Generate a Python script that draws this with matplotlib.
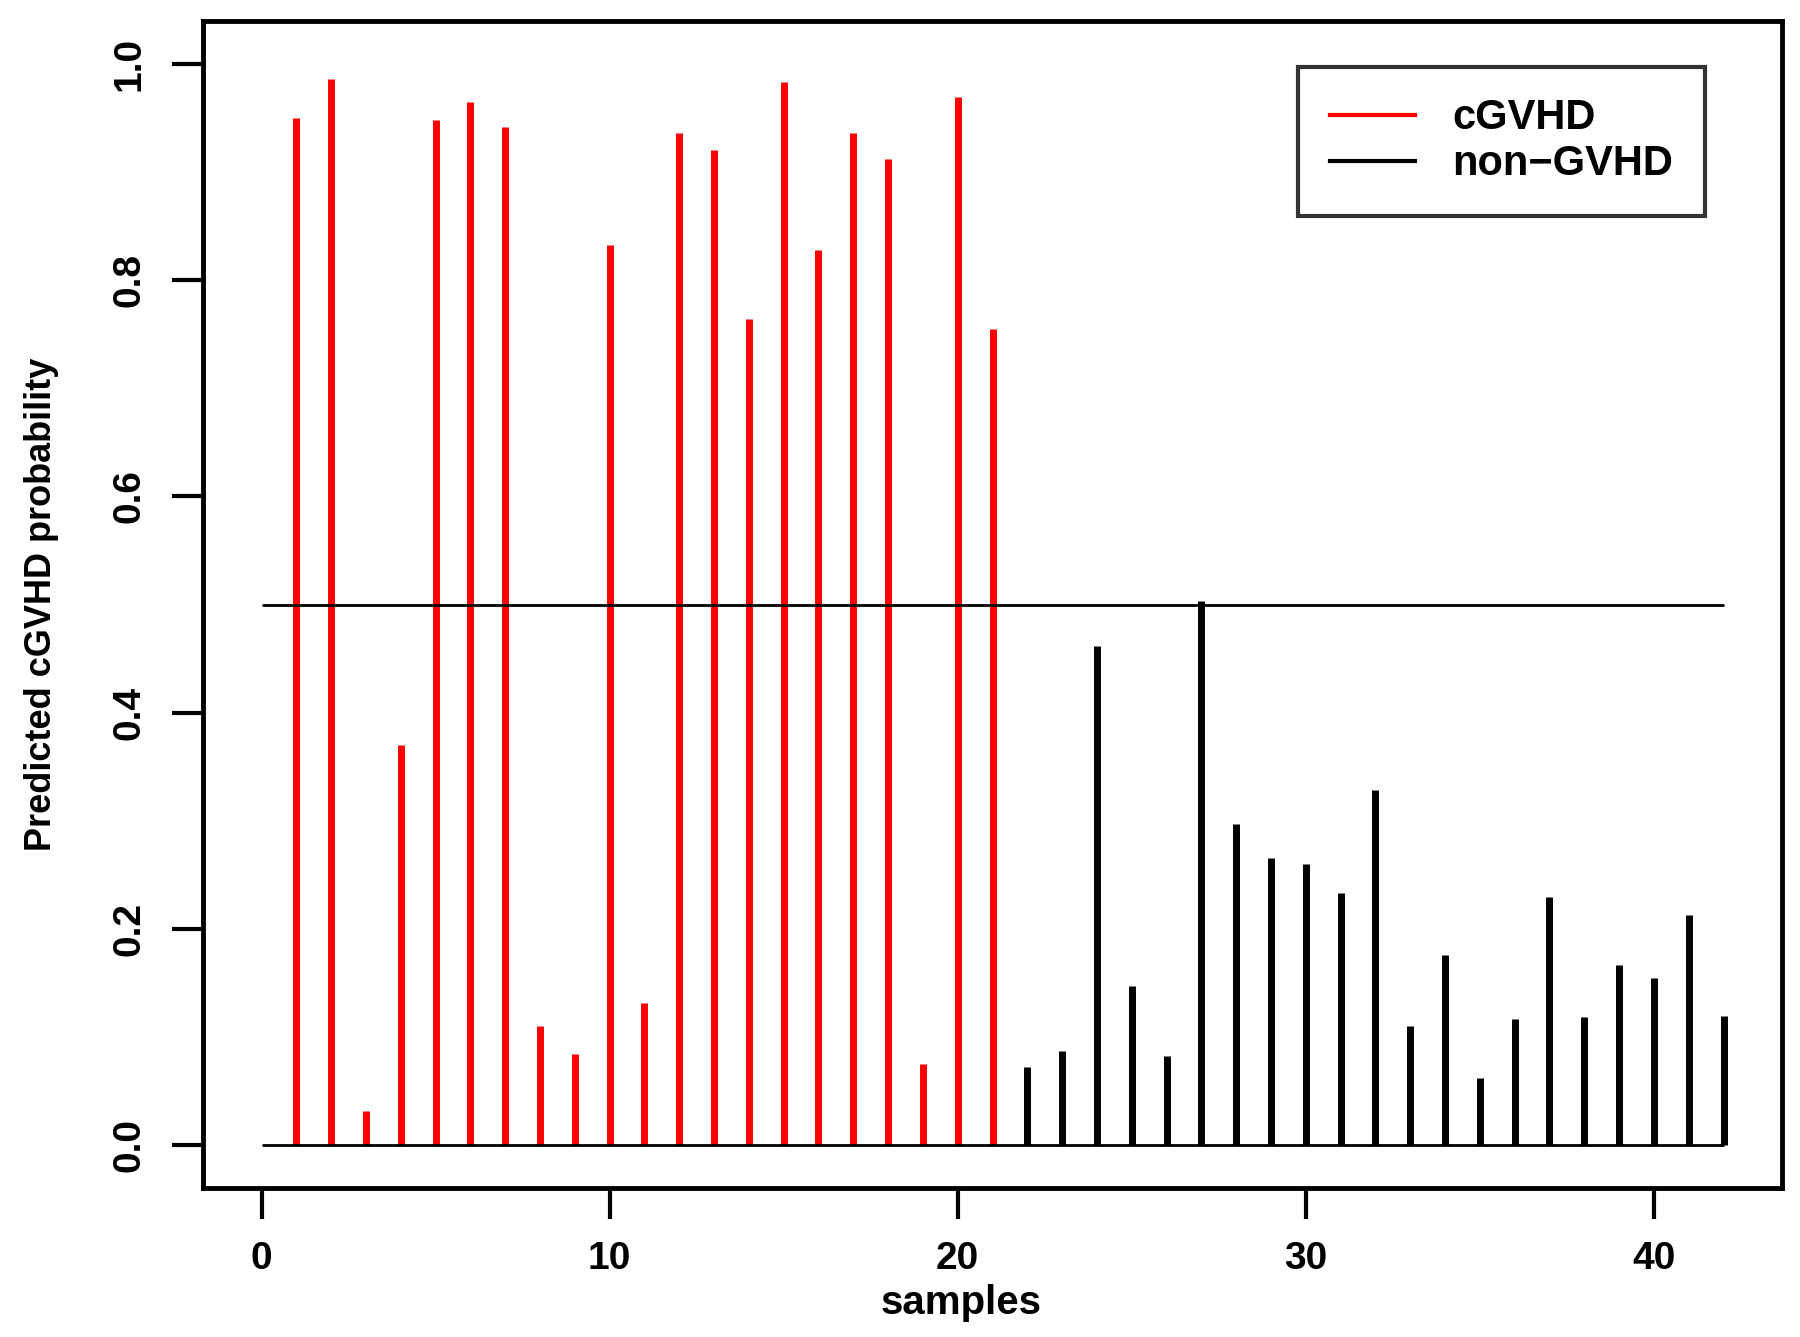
import matplotlib
matplotlib.use("Agg")
import matplotlib.pyplot as plt
from matplotlib.lines import Line2D

plt.rcParams["font.family"] = ["Liberation Sans", "DejaVu Sans"]
plt.rcParams["font.weight"] = "bold"
plt.rcParams["axes.labelweight"] = "bold"

# predicted probabilities, samples 1..42
cgvhd_samples = list(range(1, 22))
cgvhd_probs = [0.950, 0.986, 0.031, 0.370, 0.948, 0.965, 0.942, 0.110, 0.084, 0.833,
               0.131, 0.936, 0.921, 0.764, 0.984, 0.828, 0.936, 0.912, 0.075, 0.970,
               0.755]
non_samples = list(range(22, 43))
non_probs = [0.072, 0.087, 0.462, 0.147, 0.082, 0.503, 0.297, 0.265, 0.260, 0.233,
             0.328, 0.110, 0.176, 0.062, 0.116, 0.229, 0.118, 0.166, 0.154, 0.213,
             0.119]
threshold = 0.5
x_ticks = [0, 10, 20, 30, 40]
y_ticks = [0.0, 0.2, 0.4, 0.6, 0.8, 1.0]

fig = plt.figure(figsize=(18, 13.37), dpi=100)
ax = fig.add_axes([0.1128, 0.1114, 0.99 - 0.1128, 0.9843 - 0.1114])

ax.vlines(cgvhd_samples, 0, cgvhd_probs, color="#ff0000", linewidth=5)
ax.vlines(non_samples, 0, non_probs, color="black", linewidth=5)
ax.hlines([0, threshold], 0, 42, color="black", linewidth=2)

ax.set_xlim(-1.68, 43.68)
ax.set_ylim(-0.04, 1.04)
ax.set_xticks(x_ticks)
ax.set_yticks(y_ticks)
ax.set_yticklabels([f"{v:.1f}" for v in y_ticks], rotation=90, va="center")

for s in ax.spines.values():
    s.set_linewidth(3.5)
ax.tick_params(length=22, width=3, labelsize=28, pad=16)
ax.tick_params(axis="y", pad=18)

ax.set_xlabel("samples", fontsize=29, va="center")
ax.xaxis.set_label_coords(0.48, -0.0985)
ax.set_ylabel("Predicted cGVHD probability", fontsize=26, va="center")
ax.yaxis.set_label_coords(-0.102, 0.5)

handles = [Line2D([], [], color="#ff0000", linewidth=3),
           Line2D([], [], color="black", linewidth=3)]
leg = ax.legend(handles, ["cGVHD", "non\u2212GVHD"], loc="upper right",
                bbox_to_anchor=(0.951, 0.9606), borderaxespad=0, fontsize=30,
                frameon=True, fancybox=False, edgecolor="black", borderpad=0.75,
                handlelength=2.05, handletextpad=0.9, labelspacing=0.15)
leg.get_frame().set_linewidth(3)

fig.savefig("out.png", dpi=100)
